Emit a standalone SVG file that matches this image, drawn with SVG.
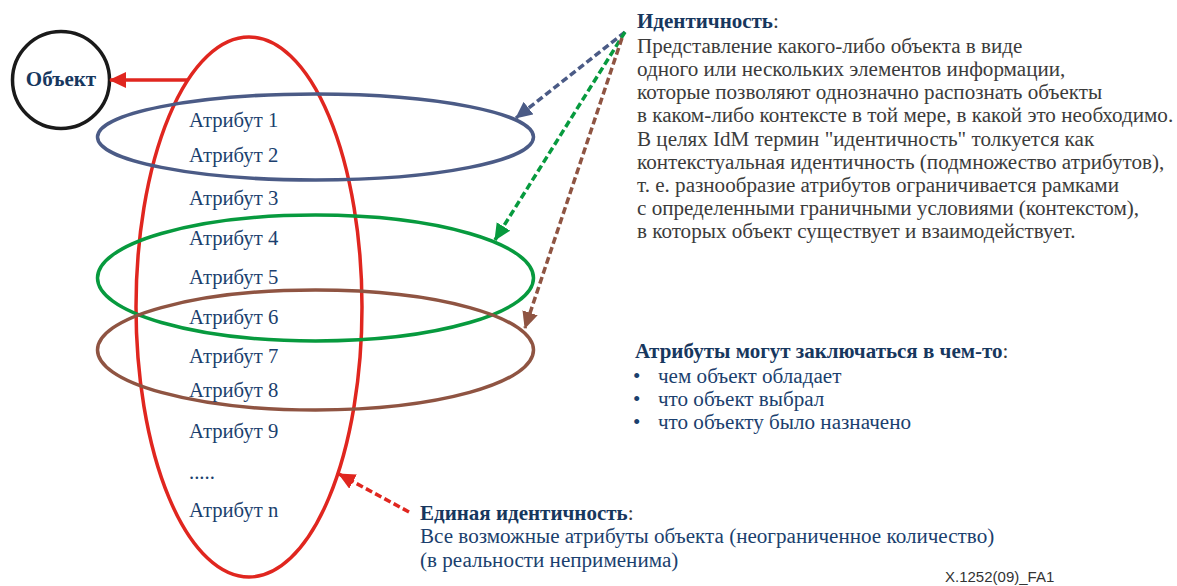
<svg xmlns="http://www.w3.org/2000/svg" width="1177" height="586" viewBox="0 0 1177 586">
<style>
.lbl{font-family:"Liberation Serif",serif;font-size:20.7px;fill:#1b3f6e}
.hd{font-family:"Liberation Serif",serif;font-size:21px;font-weight:bold;fill:#17375e}
.body{font-family:"Liberation Serif",serif;font-size:21.1px;fill:#3b3b3b}
.blue{font-family:"Liberation Serif",serif;font-size:21.1px;fill:#1b3f6e}
.ell{fill:none;stroke-width:3.5}
.dash{fill:none;stroke-width:3.5;stroke-dasharray:7 3.5}
</style>
<defs>
<marker id="mRed" markerUnits="userSpaceOnUse" markerWidth="18" markerHeight="16" refX="16" refY="8" orient="auto"><path d="M0,0 L17,8 L0,16 z" fill="#e0261f"/></marker>
<marker id="mBlue" markerUnits="userSpaceOnUse" markerWidth="18" markerHeight="16" refX="16" refY="8" orient="auto"><path d="M0,0 L17,8 L0,16 z" fill="#4b5b86"/></marker>
<marker id="mGreen" markerUnits="userSpaceOnUse" markerWidth="18" markerHeight="16" refX="16" refY="8" orient="auto"><path d="M0,0 L17,8 L0,16 z" fill="#079a3e"/></marker>
<marker id="mBrown" markerUnits="userSpaceOnUse" markerWidth="18" markerHeight="16" refX="16" refY="8" orient="auto"><path d="M0,0 L17,8 L0,16 z" fill="#8f5442"/></marker>
</defs>
<rect width="1177" height="586" fill="#ffffff"/>

<g id="object">
<circle cx="61" cy="80" r="48.5" fill="#ffffff" stroke="#1a1a1a" stroke-width="3.5"/>
<text class="hd" x="61" y="86" text-anchor="middle">Объект</text>
</g>

<g id="single-identity-ellipse">
<ellipse class="ell" cx="249" cy="307" rx="113" ry="270" stroke="#e0261f"/>
</g>
<g id="context-blue">
<ellipse class="ell" cx="315.5" cy="137" rx="218" ry="43" stroke="#4b5b86"/>
</g>
<g id="context-green">
<ellipse class="ell" cx="315.5" cy="278" rx="218" ry="63" stroke="#079a3e"/>
</g>
<g id="context-brown">
<ellipse class="ell" cx="315.5" cy="350" rx="218" ry="60" stroke="#8f5442"/>
</g>

<g id="attributes">
<text class="lbl" x="189" y="127">Атрибут 1</text>
<text class="lbl" x="189" y="162">Атрибут 2</text>
<text class="lbl" x="189" y="205">Атрибут 3</text>
<text class="lbl" x="189" y="245">Атрибут 4</text>
<text class="lbl" x="189" y="284">Атрибут 5</text>
<text class="lbl" x="189" y="324">Атрибут 6</text>
<text class="lbl" x="189" y="363">Атрибут 7</text>
<text class="lbl" x="189" y="397">Атрибут 8</text>
<text class="lbl" x="189" y="438">Атрибут 9</text>
<text class="lbl" x="189" y="479">.....</text>
<text class="lbl" x="189" y="517">Атрибут n</text>
</g>

<g id="connectors">
<line x1="188" y1="80" x2="110" y2="80" stroke="#e0261f" stroke-width="3.5" marker-end="url(#mRed)"/>
<line class="dash" x1="625" y1="32" x2="516" y2="118" stroke="#4b5b86" marker-end="url(#mBlue)"/>
<line class="dash" x1="625" y1="32" x2="495" y2="240" stroke="#079a3e" marker-end="url(#mGreen)"/>
<line class="dash" x1="622" y1="38" x2="525" y2="328" stroke="#8f5442" marker-end="url(#mBrown)"/>
<line class="dash" x1="409" y1="512" x2="339" y2="474" stroke="#e0261f" marker-end="url(#mRed)"/>
</g>

<g id="identity-text">
<text x="637" y="28"><tspan class="hd">Идентичность</tspan><tspan class="body">:</tspan></text>
<text class="body" x="637" y="53">Представление какого-либо объекта в виде</text>
<text class="body" x="637" y="76">одного или нескольких элементов информации,</text>
<text class="body" x="637" y="99">которые позволяют однозначно распознать объекты</text>
<text class="body" x="637" y="122">в каком-либо контексте в той мере, в какой это необходимо.</text>
<text class="body" x="637" y="146">В целях IdM термин "идентичность" толкуется как</text>
<text class="body" x="637" y="169">контекстуальная идентичность (подмножество атрибутов),</text>
<text class="body" x="637" y="192">т. е. разнообразие атрибутов ограничивается рамками</text>
<text class="body" x="637" y="215">с определенными граничными условиями (контекстом),</text>
<text class="body" x="637" y="238">в которых объект существует и взаимодействует.</text>
</g>

<g id="attributes-text">
<text x="635" y="358"><tspan class="hd">Атрибуты могут заключаться в чем-то</tspan><tspan class="body">:</tspan></text>
<text class="blue" x="633" y="383">•</text><text class="blue" x="658" y="383">чем объект обладает</text>
<text class="blue" x="633" y="406">•</text><text class="blue" x="658" y="406">что объект выбрал</text>
<text class="blue" x="633" y="429">•</text><text class="blue" x="658" y="429">что объекту было назначено</text>
</g>

<g id="single-identity-text">
<text x="420" y="520"><tspan class="hd">Единая идентичность</tspan><tspan class="body">:</tspan></text>
<text class="blue" x="420" y="543">Все возможные атрибуты объекта (неограниченное количество)</text>
<text class="blue" x="420" y="567">(в реальности неприменима)</text>
</g>

<text x="945" y="582" style="font-family:'Liberation Sans',sans-serif;font-size:15px;fill:#333333">X.1252(09)_FA1</text>
</svg>
